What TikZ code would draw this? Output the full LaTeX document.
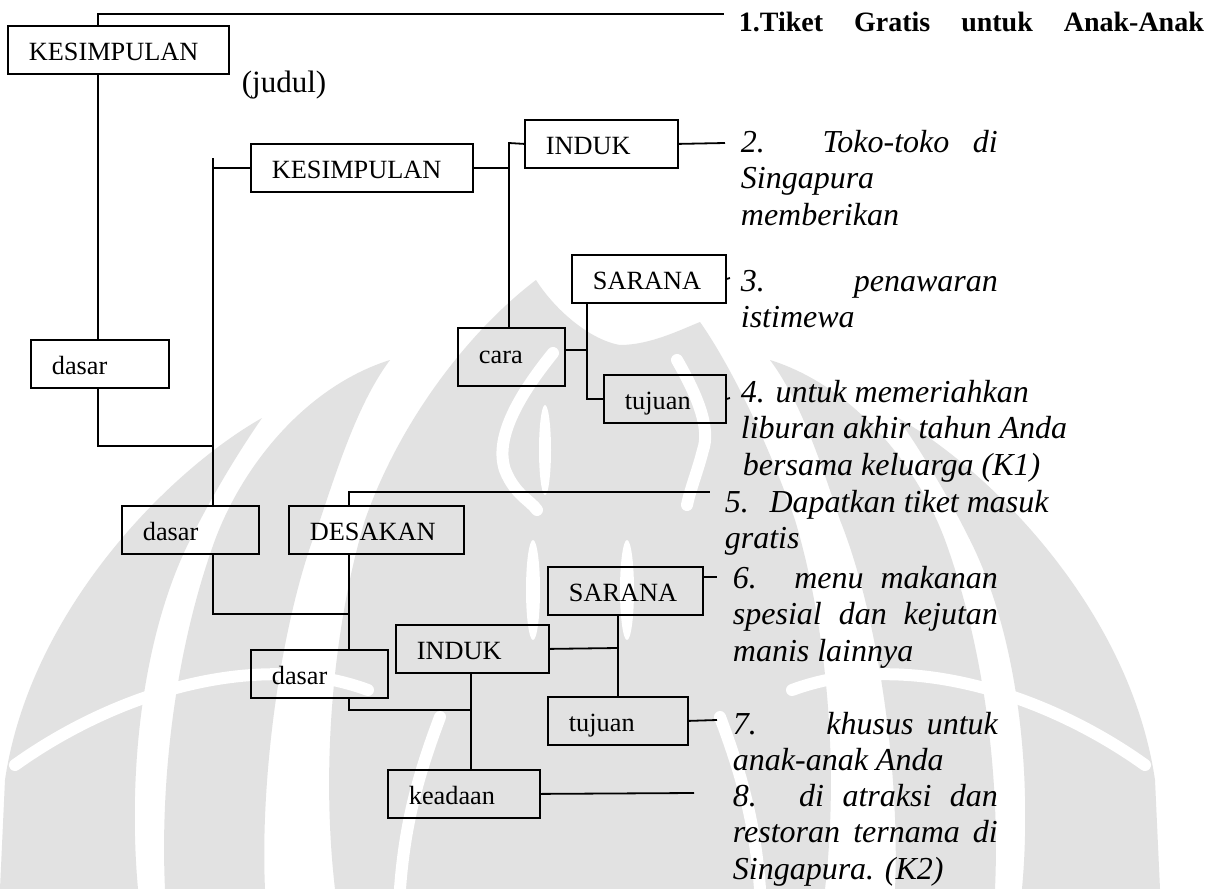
\documentclass[tikz,border=0pt]{standalone}
\usepackage{fontspec}
\setmainfont{Liberation Serif}
% one side of the background emblem (drawn twice, once mirrored)
\newcommand\wmwings{%
  % outer lobe
  \path[wm] (262,418) .. controls (170,470) and (30,610) .. (5,780)
    -- (0,889) -- (138,889) .. controls (128,780) and (140,640) .. (190,540)
    .. controls (215,490) and (240,450) .. cycle;
  % middle lobe
  \path[wm] (390,360) .. controls (310,385) and (245,460) .. (215,540)
    .. controls (175,650) and (160,780) .. (165,889) -- (265,889)
    .. controls (260,780) and (280,620) .. (320,520)
    .. controls (340,460) and (360,400) .. cycle;
  % veins
  \draw[wmcut] (15,765) .. controls (120,690) and (260,650) .. (368,690);
  \draw[wmcut] (440,717) .. controls (420,770) and (405,820) .. (400,889);
  \fill[white] (533,590) ellipse [x radius=7, y radius=50];
}
\begin{document}
\begin{tikzpicture}[x=0.5pt,y=-0.5pt,line width=0.9pt,
  bx/.style={draw, anchor=north west, inner xsep=10.5pt, inner ysep=0pt,
    minimum height=24pt, text height=10.5pt, text depth=0pt, align=left,
    text width=#1, font=\fontsize{13.15}{15}\selectfont},
  ln/.style={anchor=base west, inner sep=0pt,
    font=\fontsize{16}{18}\selectfont\itshape},
  hd/.style={anchor=base west, inner sep=0pt},
  wm/.style={fill=gray!23, draw=none},
  wmcut/.style={draw=white, line width=6pt, line cap=round}]
\fill[white] (0,0) rectangle (1212,889);
\useasboundingbox (0,0) rectangle (1212,889);

% background emblem
\begin{scope}
  \clip (0,0) rectangle (1212,889);
  % central body
  \path[wm] (536,280) .. controls (470,330) and (400,420) .. (365,520)
    .. controls (335,620) and (320,760) .. (335,889) -- (825,889)
    .. controls (840,760) and (825,620) .. (795,520)
    .. controls (760,420) and (720,350) .. (700,322)
    .. controls (680,330) and (650,345) .. (620,345)
    .. controls (590,340) and (555,310) .. cycle;
  \draw[wmcut] (553,353) .. controls (515,400) and (495,440) .. (505,470)
    .. controls (515,495) and (530,500) .. (537,510);
  \draw[wmcut] (677,360) .. controls (700,400) and (710,430) .. (703,450)
    .. controls (698,470) and (690,490) .. (687,505);
  \fill[white] (545,450) ellipse [x radius=6, y radius=45];
  \wmwings
  \begin{scope}[xshift=580pt, xscale=-1]
    \wmwings
  \end{scope}
\end{scope}

% boxes
\node[bx=89.5pt] (K1) at (7,25) {KESIMPULAN};
\node[bx=48pt] (dasarA) at (30,339) {dasar};
\node[bx=90pt] (K2) at (250,143) {KESIMPULAN};
\node[bx=55.5pt] (INDUK1) at (524,119) {INDUK};
\node[bx=32.5pt, minimum height=29pt, text height=7pt] (cara) at (457,327) {cara};
\node[bx=56pt] (SARANA1) at (571,254) {SARANA};
\node[bx=40pt] (tujuan1) at (603,374) {tujuan};
\node[bx=47.5pt] (dasarB) at (121,505) {dasar};
\node[bx=66.5pt] (DESAKAN) at (288,505) {DESAKAN};
\node[bx=47.5pt] (dasarC) at (250,649) {dasar};
\node[bx=55.5pt] (INDUK2) at (395,624) {INDUK};
\node[bx=56.5pt] (SARANA2) at (547,566) {SARANA};
\node[bx=49pt] (tujuan2) at (547,696) {tujuan};
\node[bx=55pt] (keadaan) at (387,769) {keadaan};

% headings
\node[hd, font=\fontsize{14}{17}\selectfont\bfseries] (head) at (738,31)
  {\makebox[232.5pt][s]{1.Tiket Gratis untuk Anak-Anak}};
\node[hd, font=\fontsize{15.5}{18}\selectfont] (judul) at (241,92) {(judul)};

% italic statements
\node[ln] (p2a) at (740,152) {\makebox[128.5pt][s]{2. Toko-toko di}};
\node[ln] (p2b) at (740,188.5) {Singapura};
\node[ln] (p2c) at (740,225) {memberikan};
\node[ln] (p3a) at (740,291) {\makebox[128.5pt][s]{3. penawaran}};
\node[ln] (p3b) at (740,327.5) {istimewa};
\node[ln] (p4a) at (740,402) {4. untuk memeriahkan};
\node[ln] (p4b) at (740,438.5) {liburan akhir tahun Anda};
\node[ln] (p4c) at (742,475) {bersama keluarga (K1)};
\node[ln] (p5a) at (724,512) {5.\hspace{5pt} Dapatkan tiket masuk};
\node[ln] (p5b) at (724,548.5) {gratis};
\node[ln] (p6a) at (732,588) {\makebox[132.5pt][s]{6. menu makanan}};
\node[ln] (p6b) at (732,624.5) {\makebox[132.5pt][s]{spesial dan kejutan}};
\node[ln] (p6c) at (732,661) {manis lainnya};
\node[ln] (p7a) at (732,734) {\makebox[132.5pt][s]{7.\hspace{21.5pt} khusus untuk}};
\node[ln] (p7b) at (732,770.5) {anak-anak Anda};
\node[ln] (p8a) at (732,806) {\makebox[132.5pt][s]{8. di atraksi dan}};
\node[ln] (p8b) at (732,842.5) {\makebox[132.5pt][s]{restoran ternama di}};
\node[ln] (p8c) at (732,879) {Singapura. (K2)};

% junction points and free line ends
\coordinate (t0) at (98,14);
\coordinate (e1) at (724,14);
\coordinate (j1) at (213,446);
\coordinate (s2) at (213,158);
\coordinate (v3) at (509,143);
\coordinate (e2) at (725,143);
\coordinate (e3) at (730,278);
\coordinate (e4) at (730,398);
\coordinate (v5) at (587,350);
\coordinate (c5) at (349,492);
\coordinate (e5) at (710,492);
\coordinate (j2) at (349,614);
\coordinate (j3) at (471,710);
\coordinate (j4) at (618,648);
\coordinate (e6) at (717,577);
\coordinate (e7) at (717,720);
\coordinate (e8) at (694,793);

% connectors
\draw (t0 |- K1.north) -- (t0) -- (e1);
\draw (t0 |- K1.south) -- (t0 |- dasarA.north);
\draw (t0 |- dasarA.south) |- (j1);
\draw (s2) -- (s2 |- dasarB.north);
\draw (s2 |- K2.west) -- (K2.west);
\draw (K2.east) -- (K2.east -| v3);
\draw (INDUK1.west) -- (v3) -- (v3 |- cara.north);
\draw (INDUK1.east) -- (e2);
\draw (SARANA1.east) -- (e3);
\draw (tujuan1.east) -- (e4);
\draw (v5 -| cara.east) -- (v5);
\draw (v5 |- SARANA1.south) |- (tujuan1.west);
\draw (c5 |- DESAKAN.north) -- (c5) -- (e5);
\draw (s2 |- dasarB.south) |- (j2);
\draw (c5 |- DESAKAN.south) -- (c5 |- dasarC.north);
\draw (c5 |- dasarC.south) |- (j3);
\draw (j3 |- INDUK2.south) -- (j3 |- keadaan.north);
\draw (INDUK2.east) -- (j4);
\draw (j4 |- SARANA2.south) -- (j4 |- tujuan2.north);
\draw (e6 -| SARANA2.east) -- (e6);
\draw (tujuan2.east) -- (e7);
\draw (keadaan.east) -- (e8);
\end{tikzpicture}
\end{document}
